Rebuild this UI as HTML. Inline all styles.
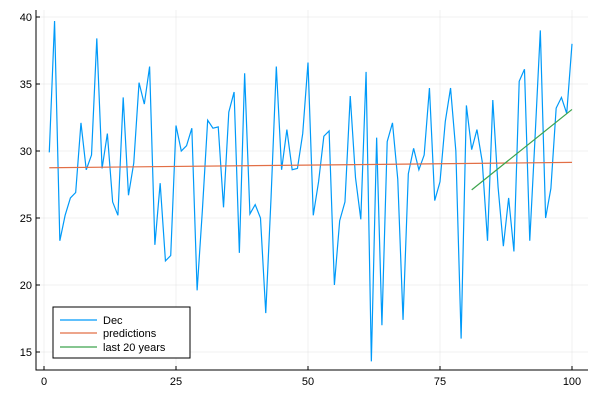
<!DOCTYPE html>
<html><head><meta charset="utf-8"><style>body{margin:0;background:#fff}svg{display:block;font-family:"Liberation Sans",sans-serif}</style></head>
<body>
<svg id="chart" width="600" height="400" viewBox="0 0 600 400" xmlns="http://www.w3.org/2000/svg">
<g id="grid"></g>
<g id="axes"></g>
<g id="series"></g>
<g>
<rect x="53" y="307" width="137" height="51" fill="#fff" stroke="#000" stroke-width="1"/>
<line x1="60" y1="320" x2="97" y2="320" stroke="#009af9" stroke-width="1.2"/>
<text x="103" y="324" font-size="11">Dec</text>
<line x1="60" y1="333" x2="97" y2="333" stroke="#e26f46" stroke-width="1.2"/>
<text x="103" y="337" font-size="11">predictions</text>
<line x1="60" y1="347" x2="97" y2="347" stroke="#3da44d" stroke-width="1.2"/>
<text x="103" y="351" font-size="11">last 20 years</text>
</g>
</svg>
<script>
const decValues=[29.9,39.7,23.3,25.2,26.5,26.9,32.1,28.6,29.7,38.4,28.7,31.3,26.2,25.2,34.0,26.7,29.1,35.1,33.5,36.3,23.0,27.6,21.8,22.2,31.9,30.0,30.4,31.7,19.6,25.6,32.3,31.7,31.8,25.8,32.9,34.4,22.4,35.8,25.3,26.0,25.0,17.9,26.5,36.3,28.6,31.6,28.6,28.7,31.3,36.6,25.2,27.7,31.1,31.5,20.0,24.8,26.2,34.1,28.0,24.9,35.9,14.3,31.0,17.0,30.7,32.1,27.9,17.4,28.3,30.2,28.6,29.7,34.7,26.3,27.7,32.2,34.7,30.0,16.0,33.4,30.1,31.6,29.2,23.3,33.8,27.3,22.9,26.5,22.5,35.2,36.1,23.3,31.0,39.0,25.0,27.2,33.2,34.0,32.8,38.0];
const predX=[1,100];
const predValues=[28.75,29.15];
const recentX=[81,100];
const recentValues=[27.1,33.1];
const xTicks=[0,25,50,75,100];
const yTicks=[15,20,25,30,35,40];
const NS="http://www.w3.org/2000/svg";
const L=36,R=588,T=10,B=370;
const xs=v=>44+v*5.28;
const ys=v=>352-(v-15)*13.4;
function mk(tag,attrs,parent){const e=document.createElementNS(NS,tag);for(const k in attrs)e.setAttribute(k,attrs[k]);parent.appendChild(e);return e;}
const grid=document.getElementById('grid'),axes=document.getElementById('axes'),series=document.getElementById('series');
xTicks.forEach(t=>{
 const g=mk('line',{x1:xs(t),x2:xs(t),y1:T,y2:B,stroke:'#000','stroke-opacity':0.1,'stroke-width':0.5},grid);
 
 
 const tk=mk('line',{x1:xs(t),x2:xs(t),y1:B,y2:B-4,stroke:'#000'},axes);
 
 
 const tx=mk('text',{x:xs(t),y:B+15,'font-size':11,'text-anchor':'middle'},axes);
 tx.textContent=t;
 
 
});
yTicks.forEach(t=>{
 const g=mk('line',{x1:L,x2:R,y1:ys(t),y2:ys(t),stroke:'#000','stroke-opacity':0.1,'stroke-width':0.5},grid);
 
 
 const tk=mk('line',{x1:L,x2:L+4,y1:ys(t),y2:ys(t),stroke:'#000'},axes);
 
 
 const tx=mk('text',{x:L-4,y:ys(t)+4,'font-size':11,'text-anchor':'end'},axes);
 tx.textContent=t;
 
 
});
const ax=mk('path',{d:`M${L},${T}V${B}H${R}`,fill:'none',stroke:'#000','stroke-width':1},axes);


const p1=mk('polyline',{points:decValues.map((v,i)=>xs(i+1)+','+ys(v)).join(' '),fill:'none',stroke:'#009af9','stroke-width':1.2},series);


const p2=mk('polyline',{points:predValues.map((v,i)=>xs(predX[i])+','+ys(v)).join(' '),fill:'none',stroke:'#e26f46','stroke-width':1.2},series);


const p3=mk('polyline',{points:recentValues.map((v,i)=>xs(recentX[i])+','+ys(v)).join(' '),fill:'none',stroke:'#3da44d','stroke-width':1.2},series);


</script>
</body></html>
